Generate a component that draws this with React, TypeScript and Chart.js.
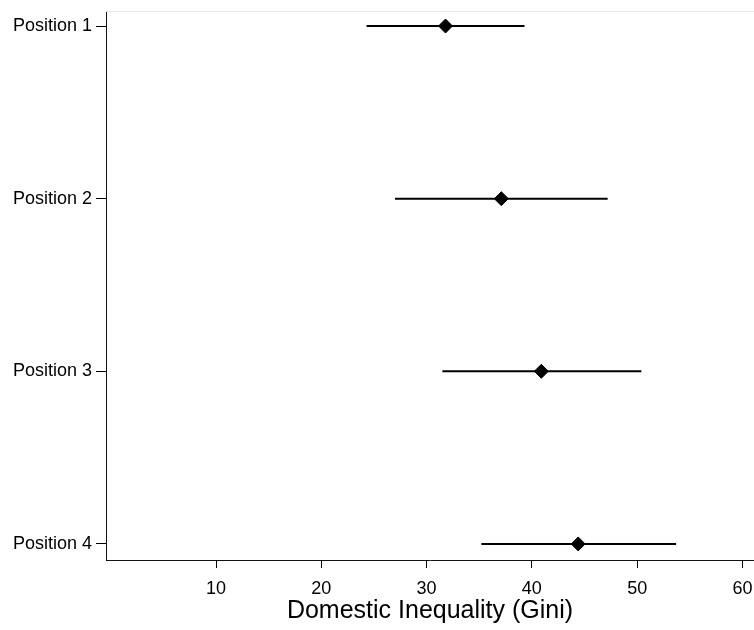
import React, { useEffect, useRef } from "react";
import { Chart, registerables } from "chart.js";

Chart.register(...registerables);

const categories: string[] = ["Position 1", "Position 2", "Position 3", "Position 4"];
const estimates: number[] = [31.8, 37.1, 40.9, 44.4];
const lowerCI: number[] = [24.3, 27.0, 31.5, 35.2];
const upperCI: number[] = [39.3, 47.2, 50.4, 53.7];
const xTicks: number[] = [10, 20, 30, 40, 50, 60];
const xTitle = "Domestic Inequality (Gini)";

const FONT = "'Liberation Sans', Arial, Helvetica, sans-serif";

const topBorder = {
  id: "topBorder",
  afterDraw(chart: any) {
    const { ctx, chartArea } = chart;
    ctx.save();
    ctx.strokeStyle = "#e3ecec";
    ctx.lineWidth = 1;
    ctx.beginPath();
    ctx.moveTo(chartArea.left, chartArea.top + 0.5);
    ctx.lineTo(chartArea.right, chartArea.top + 0.5);
    ctx.stroke();
    ctx.restore();
  },
};

export default function App() {
  const ref = useRef<HTMLCanvasElement | null>(null);

  useEffect(() => {
    if (!ref.current) return;
    const pointData = estimates.map((v, i) => ({ x: v, y: i + 1 }));
    const barSets = categories.map((c, i) => ({
      label: c + " CI",
      data: [
        { x: lowerCI[i], y: i + 1 },
        { x: upperCI[i], y: i + 1 },
      ],
      showLine: true,
      borderColor: "#000",
      borderWidth: 2,
      pointRadius: 0,
      pointHoverRadius: 0,
    }));
    const chart = new Chart(ref.current, {
      type: "scatter",
      data: {
        datasets: [
          {
            label: "Estimate",
            data: pointData,
            pointStyle: "rectRot",
            pointRadius: 7,
            pointBorderWidth: 1,
            backgroundColor: "#000",
            borderColor: "#000",
          } as any,
          ...barSets,
        ],
      },
      options: {
        animation: false,
        responsive: false,
        maintainAspectRatio: false,
        layout: { autoPadding: false, padding: { top: 11, right: 0, left: 0, bottom: 0 } },
        plugins: {
          legend: { display: false },
          tooltip: { enabled: false },
        },
        scales: {
          x: {
            type: "linear",
            min: -0.45,
            max: 61.1,
            afterBuildTicks: (axis: any) => {
              axis.ticks = xTicks.map((v) => ({ value: v }));
            },
            afterFit: (axis: any) => {
              axis.height = 70;
              axis.paddingLeft = 0;
              axis.paddingRight = 0;
            },
            grid: {
              drawOnChartArea: false,
              drawTicks: true,
              tickLength: 8,
              color: "#000",
            },
            border: { color: "#111", width: 1 },
            ticks: {
              autoSkip: false,
              maxRotation: 0,
              padding: 10,
              color: "#000",
              font: { family: FONT, size: 18 },
              callback: (v: any) => String(v),
            },
            title: {
              display: true,
              text: xTitle,
              color: "#000",
              font: { family: FONT, size: 25 },
              padding: { top: 0, bottom: 4 },
            },
          },
          y: {
            type: "linear",
            reverse: true,
            min: 0.913,
            max: 4.093,
            afterBuildTicks: (axis: any) => {
              axis.ticks = categories.map((_, i) => ({ value: i + 1 }));
            },
            afterFit: (axis: any) => {
              axis.width = 106;
              axis.paddingTop = 0;
              axis.paddingBottom = 0;
            },
            grid: {
              drawOnChartArea: false,
              drawTicks: true,
              tickLength: 10,
              color: "#000",
            },
            border: { color: "#111", width: 1 },
            ticks: {
              autoSkip: false,
              padding: 4,
              color: "#000",
              font: { family: FONT, size: 18 },
              callback: (v: any) => categories[Math.round(Number(v)) - 1] ?? "",
            },
          },
        },
      },
      plugins: [topBorder],
    });
    return () => chart.destroy();
  }, []);

  return (
    <div style={{ position: "fixed", left: 0, top: 0, width: 754, height: 630, background: "#fff" }}>
      <canvas ref={ref} width={754} height={630} style={{ width: 754, height: 630, display: "block" }} />
    </div>
  );
}
